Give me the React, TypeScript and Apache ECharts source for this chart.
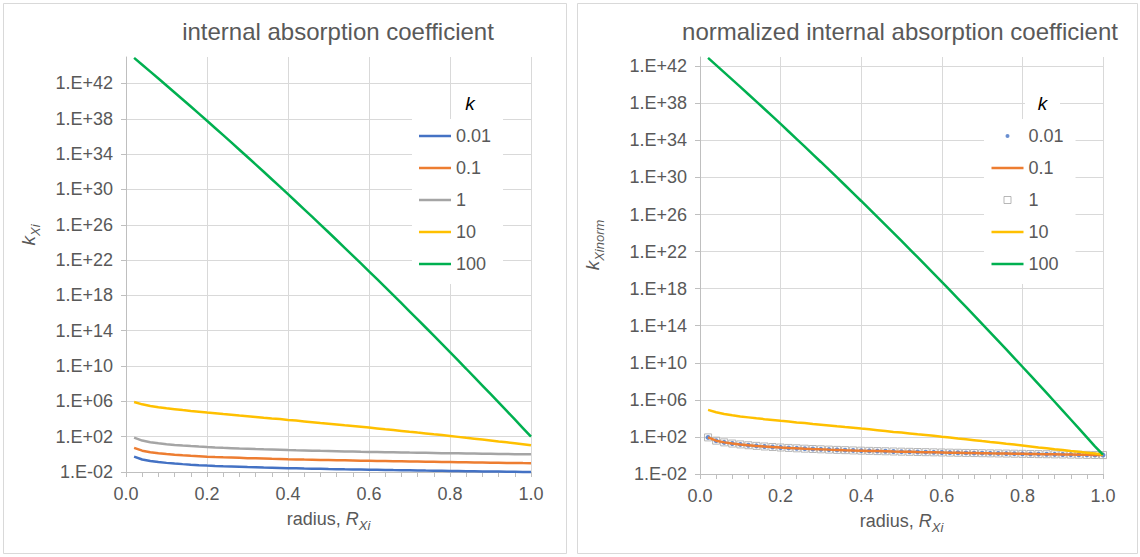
import React, { useEffect, useRef } from 'react';
import * as echarts from 'echarts';

// ---------- data ----------
const radius = [
  0.02, 0.04, 0.06, 0.08, 0.1, 0.12, 0.14, 0.16, 0.18, 0.2,
  0.22, 0.24, 0.26, 0.28, 0.3, 0.32, 0.34, 0.36, 0.38, 0.4,
  0.42, 0.44, 0.46, 0.48, 0.5, 0.52, 0.54, 0.56, 0.58, 0.6,
  0.62, 0.64, 0.66, 0.68, 0.7, 0.72, 0.74, 0.76, 0.78, 0.8,
  0.82, 0.84, 0.86, 0.88, 0.9, 0.92, 0.94, 0.96, 0.98, 1.0,
];

const kNames = ['0.01', '0.1', '1', '10', '100'];

// left chart: internal absorption coefficient k_Xi
const leftK001 = [
  0.56, 0.26, 0.175, 0.134, 0.108, 0.09, 0.078, 0.068, 0.06, 0.054,
  0.049, 0.045, 0.042, 0.039, 0.036, 0.034, 0.032, 0.0302, 0.0286, 0.0272,
  0.026, 0.0248, 0.0238, 0.0228, 0.0219, 0.0211, 0.0203, 0.0196, 0.0189, 0.0182,
  0.0176, 0.017, 0.0164, 0.0159, 0.0154, 0.0149, 0.0144, 0.014, 0.0136, 0.0132,
  0.0128, 0.0124, 0.0121, 0.0117, 0.0114, 0.0111, 0.0108, 0.0105, 0.0102, 0.01,
];
const leftK01 = [
  5.5, 2.6, 1.75, 1.35, 1.1, 0.92, 0.8, 0.7, 0.62, 0.55,
  0.5, 0.46, 0.43, 0.4, 0.37, 0.35, 0.33, 0.31, 0.295, 0.28,
  0.268, 0.256, 0.245, 0.235, 0.226, 0.217, 0.209, 0.201, 0.194, 0.187,
  0.18, 0.174, 0.168, 0.162, 0.157, 0.152, 0.147, 0.142, 0.137, 0.133,
  0.129, 0.125, 0.121, 0.118, 0.114, 0.111, 0.108, 0.105, 0.102, 0.1,
];
const leftK1 = [
  78, 36, 23.5, 17.8, 14.2, 11.7, 10.0, 8.6, 7.5, 6.7,
  6.0, 5.45, 5.0, 4.6, 4.25, 3.95, 3.7, 3.47, 3.26, 3.07,
  2.9, 2.75, 2.61, 2.48, 2.37, 2.26, 2.16, 2.07, 1.98, 1.9,
  1.83, 1.76, 1.69, 1.63, 1.57, 1.52, 1.47, 1.42, 1.37, 1.33,
  1.29, 1.25, 1.21, 1.17, 1.14, 1.11, 1.08, 1.05, 1.02, 1.0,
];
const leftK10 = [
  8.3e5, 4.6e5, 2.95e5, 2.14e5, 1.62e5, 1.29e5, 1.02e5, 8.3e4, 6.8e4, 5.5e4,
  4.6e4, 3.7e4, 3.1e4, 2.5e4, 2.1e4, 1.74e4, 1.41e4, 1.17e4, 9.8e3, 7.9e3,
  6.6e3, 5.4e3, 4.4e3, 3.5e3, 2.95e3, 2.4e3, 1.95e3, 1.62e3, 1.32e3, 1.07e3,
  870, 690, 560, 450, 360, 290, 235, 186, 151, 120,
  95, 74, 59, 47, 37, 29, 23, 18.2, 14.1, 10.5,
];
const leftK100 = [
  7.94e44, 1.33e44, 2.22e43, 3.66e42, 5.97e41, 9.64e40, 1.55e40, 2.45e39, 3.84e38, 5.98e37,
  9.2e36, 1.4e36, 2.12e35, 3.17e34, 4.7e33, 6.89e32, 1.0e32, 1.44e31, 2.05e30, 2.9e29,
  4.06e28, 5.61e27, 7.71e26, 1.04e26, 1.41e25, 1.87e24, 2.47e23, 3.23e22, 4.17e21, 5.36e20,
  6.79e19, 8.53e18, 1.06e18, 1.31e17, 1.6e16, 1.93e15, 2.32e14, 2.75e13, 3.22e12, 3.76e11,
  4.33e10, 4.93e9, 5.58e8, 6.24e7, 6.9e6, 7.59e5, 8.26e4, 8.89e3, 946, 100,
];

// right chart: normalized internal absorption coefficient k_Xinorm
// (the 0.01, 0.1 and 1 curves coincide in the picture)
const normSmallK = [
  89, 39.6, 25.8, 19.4, 15.5, 12.7, 10.8, 9.29, 8.14, 7.23,
  6.51, 5.91, 5.41, 4.98, 4.6, 4.27, 3.99, 3.73, 3.5, 3.3,
  3.12, 2.97, 2.83, 2.7, 2.58, 2.47, 2.36, 2.27, 2.18, 2.1,
  2.02, 1.95, 1.88, 1.82, 1.76, 1.7, 1.65, 1.6, 1.55, 1.5,
  1.45, 1.4, 1.36, 1.32, 1.28, 1.24, 1.2, 1.16, 1.13, 1.1,
];
const normK10 = [
  8.3e4, 4.6e4, 2.95e4, 2.14e4, 1.62e4, 1.29e4, 1.02e4, 8.3e3, 6.8e3, 5.5e3,
  4.6e3, 3.7e3, 3.1e3, 2.5e3, 2.1e3, 1.74e3, 1.41e3, 1.17e3, 980, 790,
  660, 540, 440, 350, 295, 240, 195, 162, 132, 107,
  87, 69, 56, 45, 36, 29, 23.5, 18.6, 15.1, 12.0,
  9.5, 7.4, 5.9, 4.7, 3.9, 3.1, 2.5, 2.0, 1.6, 1.25,
];
const normK100 = [
  7.94e42, 1.33e42, 2.22e41, 3.66e40, 5.97e39, 9.64e38, 1.55e38, 2.45e37, 3.84e36, 5.98e35,
  9.2e34, 1.4e34, 2.12e33, 3.17e32, 4.7e31, 6.89e30, 1.0e30, 1.44e29, 2.05e28, 2.9e27,
  4.06e26, 5.61e25, 7.71e24, 1.04e24, 1.41e23, 1.87e22, 2.47e21, 3.23e20, 4.17e19, 5.36e18,
  6.79e17, 8.53e16, 1.06e16, 1.31e15, 1.6e14, 1.93e13, 2.32e12, 2.75e11, 3.22e10, 3.76e9,
  4.33e8, 4.93e7, 5.58e6, 6.24e5, 6.9e4, 7.59e3, 826, 88.9, 9.6, 1.2,
];

const yTickValues = [1e-2, 1e2, 1e6, 1e10, 1e14, 1e18, 1e22, 1e26, 1e30, 1e34, 1e38, 1e42];
const leftYMax = 1e45;
const rightYMax = 1e43;

// ---------- styles ----------
const FONT = "'Liberation Sans', Arial, sans-serif";
const TXT = '#595959';
const GRID_C = '#d9d9d9';
const AXIS_C = '#bfbfbf';
const BLUE = '#4472C4';
const ORANGE = '#ED7D31';
const GRAY = '#A5A5A5';
const YELLOW = '#FFC000';
const GREEN = '#00B050';
const kColors = [BLUE, ORANGE, GRAY, YELLOW, GREEN];

const BAR_ICON = 'path://M0,0M32,10M0,3.75h32v2.5h-32z';
const DOT_ICON = 'path://M0,0M32,10M16,3a2,2,0,1,1,0,4a2,2,0,1,1,0,-4z';
const SQUARE_ICON = 'path://M0,0M32,10M12.5,1.5h7v7h-7z';

const pairs = (ys: number[]) => radius.map((r, i) => [r, ys[i]]);

const fmtExp = (v: number) => {
  const e = Math.round(Math.log10(v));
  return '1.E' + (e < 0 ? '-' : '+') + String(Math.abs(e)).padStart(2, '0');
};

function xAxisOpt() {
  return {
    type: 'value',
    min: 0,
    max: 1,
    interval: 0.2,
    axisLine: { show: true, lineStyle: { color: AXIS_C, width: 1 } },
    axisTick: { show: true, length: 5, lineStyle: { color: AXIS_C } },
    minorTick: { show: true, splitNumber: 5, length: 5, lineStyle: { color: AXIS_C } },
    splitLine: { show: true, lineStyle: { color: GRID_C, width: 1 } },
    minorSplitLine: { show: false },
    axisLabel: {
      formatter: (v: number) => v.toFixed(1),
      fontSize: 18,
      color: TXT,
      fontFamily: FONT,
      margin: 13,
    },
    name: '{n|radius, }{i|R}{s|Xi}',
    nameLocation: 'middle',
    nameGap: 38,
    nameTextStyle: {
      color: TXT,
      fontFamily: FONT,
      fontSize: 18,
      rich: {
        n: { fontSize: 18, color: TXT, fontFamily: FONT, padding: [0, 0, 4, 0], verticalAlign: 'bottom' },
        i: { fontSize: 18, color: TXT, fontFamily: FONT, fontStyle: 'italic', padding: [0, 0, 4, 0], verticalAlign: 'bottom' },
        s: { fontSize: 13, color: TXT, fontFamily: FONT, fontStyle: 'italic', verticalAlign: 'bottom' },
      },
    },
  };
}

function yAxisOpt(max: number) {
  return {
    type: 'log',
    logBase: 10,
    min: 1e-2,
    max,
    axisLine: { show: true, lineStyle: { color: AXIS_C, width: 1 } },
    axisTick: { show: true, length: 5, customValues: yTickValues, lineStyle: { color: AXIS_C } },
    minorTick: { show: false },
    minorSplitLine: { show: false },
    splitLine: { show: true, lineStyle: { color: GRID_C, width: 1 } },
    axisLabel: {
      customValues: yTickValues,
      formatter: fmtExp,
      fontSize: 18,
      color: TXT,
      fontFamily: FONT,
      margin: 13,
    },
  };
}

function legendOpt(data: any[]) {
  return {
    orient: 'vertical',
    left: 412,
    top: 119,
    itemWidth: 32,
    itemHeight: 10,
    itemGap: 12,
    padding: [7, 12, 10, 7],
    backgroundColor: '#fff',
    selectedMode: false,
    icon: BAR_ICON,
    itemStyle: { borderWidth: 0 },
    textStyle: { fontSize: 18, color: TXT, fontFamily: FONT, lineHeight: 20 },
    data,
    z: 10,
  };
}

function yTitle(x: number, y: number, sub: string) {
  return {
    type: 'text',
    x,
    y,
    rotation: Math.PI / 2,
    z: 5,
    silent: true,
    style: {
      text: '{k|k}{s|' + sub + '}',
      align: 'center',
      verticalAlign: 'middle',
      fill: TXT,
      fontFamily: FONT,
      fontSize: 19,
      rich: {
        k: { fontSize: 19, fontStyle: 'italic', fontFamily: FONT, fill: TXT, padding: [0, 0, 4, 0], verticalAlign: 'bottom' },
        s: { fontSize: 13, fontStyle: 'italic', fontFamily: FONT, fill: TXT, verticalAlign: 'bottom' },
      },
    },
  };
}

function kHeader(rx: number, rw: number) {
  return [
    { type: 'rect', z: 20, silent: true, shape: { x: rx, y: 86, width: rw, height: 34 }, style: { fill: '#fff' } },
    {
      type: 'text', z: 21, silent: true, x: rx + rw / 2, y: 103,
      style: { text: 'k', align: 'center', verticalAlign: 'middle', fill: '#000', fontFamily: FONT, fontSize: 19, fontStyle: 'italic' },
    },
  ];
}

function mainTitle(x: number, text: string) {
  return {
    type: 'text', z: 5, silent: true, x, y: 31,
    style: { text, align: 'center', verticalAlign: 'middle', fill: TXT, fontFamily: FONT, fontSize: 24 },
  };
}

function border(x: number, w: number) {
  return {
    type: 'rect', z: 0, silent: true,
    shape: { x, y: 3.5, width: w, height: 550 },
    style: { fill: 'none', stroke: GRID_C, lineWidth: 1 },
  };
}

const leftSeriesData = [leftK001, leftK01, leftK1, leftK10, leftK100];

const leftOption = {
  animation: false,
  textStyle: { fontFamily: FONT },
  grid: { left: 126, top: 57, width: 405, height: 415, outerBoundsMode: 'none', containLabel: false },
  xAxis: xAxisOpt(),
  yAxis: yAxisOpt(leftYMax),
  legend: legendOpt(kNames),
  graphic: [
    border(3.5, 563),
    mainTitle(338, 'internal absorption coefficient'),
    yTitle(30, 235, 'Xi'),
    ...kHeader(452, 36),
  ],
  series: kNames.map((name, i) => ({
    name,
    type: 'line',
    data: pairs(leftSeriesData[i]),
    showSymbol: false,
    symbol: 'none',
    clip: false,
    silent: true,
    lineStyle: { width: 2.5, color: kColors[i] },
    itemStyle: { color: kColors[i] },
  })),
};

const rightOption = {
  animation: false,
  textStyle: { fontFamily: FONT },
  grid: { left: 128, top: 57, width: 403, height: 417, outerBoundsMode: 'none', containLabel: false },
  xAxis: xAxisOpt(),
  yAxis: yAxisOpt(rightYMax),
  legend: legendOpt([
    { name: '0.01', icon: DOT_ICON, itemStyle: { color: BLUE, borderWidth: 0 } },
    { name: '0.1', icon: BAR_ICON },
    { name: '1', icon: SQUARE_ICON, itemStyle: { color: 'rgba(255,255,255,0)', borderColor: GRAY, borderWidth: 1 } },
    { name: '10', icon: BAR_ICON },
    { name: '100', icon: BAR_ICON },
  ]),
  graphic: [
    border(5.5, 560),
    mainTitle(328, 'normalized internal absorption coefficient'),
    yTitle(22, 245, 'Xinorm'),
    ...kHeader(453, 35),
  ],
  series: [
    {
      name: '0.1', type: 'line', data: pairs(normSmallK), showSymbol: false, symbol: 'none', silent: true,
      lineStyle: { width: 2.5, color: ORANGE }, itemStyle: { color: ORANGE },
    },
    {
      name: '1', type: 'scatter', data: pairs(normSmallK), symbol: 'rect', symbolSize: 7, silent: true,
      itemStyle: { color: 'rgba(255,255,255,0)', borderColor: GRAY, borderWidth: 1 },
    },
    {
      name: '0.01', type: 'scatter', data: pairs(normSmallK), symbol: 'circle', symbolSize: 5, silent: true,
      itemStyle: { color: BLUE },
    },
    {
      name: '10', type: 'line', data: pairs(normK10), showSymbol: false, symbol: 'none', silent: true,
      lineStyle: { width: 2.5, color: YELLOW }, itemStyle: { color: YELLOW },
    },
    {
      name: '100', type: 'line', data: pairs(normK100), showSymbol: false, symbol: 'none', silent: true, clip: false,
      lineStyle: { width: 2.5, color: GREEN }, itemStyle: { color: GREEN },
    },
  ],
};

function EChart({ option, style }: { option: any; style: React.CSSProperties }) {
  const ref = useRef<HTMLDivElement>(null);
  useEffect(() => {
    if (!ref.current) return;
    const chart = echarts.init(ref.current, undefined, { renderer: 'svg' });
    chart.setOption(option);
    return () => chart.dispose();
  }, [option]);
  return <div ref={ref} style={style} />;
}

export default function App() {
  return (
    <div style={{ position: 'absolute', left: 0, top: 0, width: 1140, height: 557, background: '#fff' }}>
      <EChart option={leftOption} style={{ position: 'absolute', left: 0, top: 0, width: 572, height: 557 }} />
      <EChart option={rightOption} style={{ position: 'absolute', left: 572, top: 0, width: 568, height: 557 }} />
    </div>
  );
}
